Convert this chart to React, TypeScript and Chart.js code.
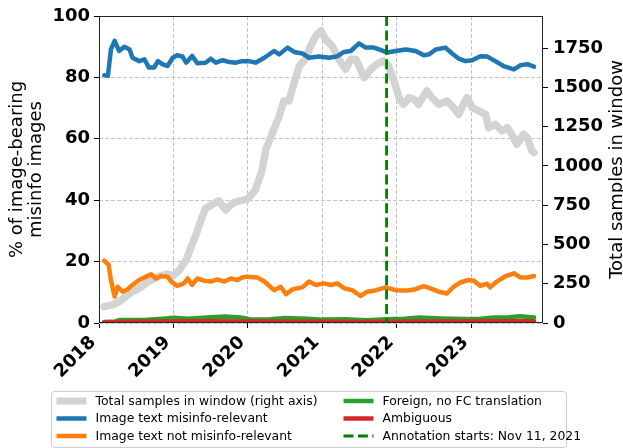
import React, { useEffect, useRef } from 'react';
import { Chart, registerables } from 'chart.js';

Chart.register(...registerables);

const FONT = "'DejaVu Sans', sans-serif";

// ---- data (decimal years / values) ----
const blueYears = [2018.07, 2018.12, 2018.16, 2018.21, 2018.27, 2018.34, 2018.41, 2018.45, 2018.54, 2018.61, 2018.67, 2018.74, 2018.79, 2018.85, 2018.92, 2018.99, 2019.05, 2019.12, 2019.17, 2019.25, 2019.32, 2019.43, 2019.50, 2019.57, 2019.66, 2019.75, 2019.84, 2019.92, 2020.01, 2020.10, 2020.22, 2020.35, 2020.42, 2020.53, 2020.62, 2020.73, 2020.82, 2020.95, 2021.09, 2021.20, 2021.29, 2021.38, 2021.49, 2021.58, 2021.69, 2021.76, 2021.87, 2021.98, 2022.12, 2022.25, 2022.36, 2022.43, 2022.52, 2022.65, 2022.74, 2022.83, 2022.92, 2023.01, 2023.12, 2023.21, 2023.32, 2023.43, 2023.57, 2023.66, 2023.75, 2023.84];
const blueValues = [80.7, 80.5, 89.1, 91.9, 88.6, 90.0, 89.1, 86.4, 85.3, 85.9, 83.2, 83.2, 85.3, 84.3, 83.7, 86.4, 87.2, 86.8, 84.8, 87.0, 84.6, 84.8, 86.1, 84.8, 85.6, 85.0, 84.8, 85.3, 85.3, 84.8, 86.4, 88.6, 87.5, 89.7, 88.3, 87.8, 86.4, 86.8, 86.4, 86.9, 88.3, 88.6, 91.1, 89.7, 89.7, 89.1, 88.1, 88.6, 89.1, 88.6, 87.2, 87.5, 89.1, 89.7, 87.8, 86.1, 85.3, 85.6, 86.9, 86.8, 85.3, 83.7, 82.6, 84.0, 84.3, 83.5];

const orangeYears = [2018.07, 2018.13, 2018.16, 2018.21, 2018.25, 2018.32, 2018.38, 2018.45, 2018.54, 2018.63, 2018.70, 2018.76, 2018.83, 2018.92, 2018.97, 2019.05, 2019.14, 2019.19, 2019.25, 2019.32, 2019.41, 2019.50, 2019.59, 2019.68, 2019.77, 2019.86, 2019.92, 2019.99, 2020.13, 2020.22, 2020.35, 2020.44, 2020.51, 2020.60, 2020.73, 2020.82, 2020.91, 2021.02, 2021.11, 2021.20, 2021.29, 2021.40, 2021.51, 2021.60, 2021.71, 2021.85, 2021.98, 2022.14, 2022.25, 2022.36, 2022.45, 2022.56, 2022.67, 2022.76, 2022.85, 2022.96, 2023.03, 2023.12, 2023.21, 2023.25, 2023.34, 2023.46, 2023.57, 2023.66, 2023.75, 2023.84];
const orangeValues = [20.3, 18.9, 14.0, 8.6, 11.8, 10.2, 10.9, 12.4, 14.0, 15.1, 15.9, 14.5, 15.3, 15.1, 13.5, 12.1, 12.9, 14.5, 12.4, 14.5, 13.8, 13.5, 14.2, 13.5, 14.5, 14.0, 14.8, 15.1, 14.8, 13.5, 10.7, 11.8, 9.4, 11.0, 11.6, 13.5, 12.4, 12.9, 12.4, 12.9, 11.3, 10.7, 8.8, 10.2, 10.6, 11.6, 10.7, 10.6, 11.0, 12.0, 11.3, 10.2, 9.6, 11.8, 13.2, 14.0, 13.8, 12.1, 12.8, 11.6, 13.5, 15.3, 16.2, 14.8, 14.8, 15.3];

const greenYears = [2018.07, 2018.22, 2018.28, 2018.60, 2018.90, 2019.00, 2019.20, 2019.50, 2019.70, 2019.90, 2020.05, 2020.30, 2020.50, 2020.80, 2021.00, 2021.30, 2021.60, 2021.85, 2022.10, 2022.30, 2022.60, 2022.90, 2023.10, 2023.30, 2023.50, 2023.65, 2023.84];
const greenValues = [0.3, 0.5, 1.0, 1.0, 1.5, 1.7, 1.4, 1.9, 2.1, 1.8, 1.1, 1.2, 1.6, 1.4, 1.1, 1.2, 0.9, 1.2, 1.4, 1.8, 1.5, 1.3, 1.3, 1.8, 1.9, 2.2, 1.8];

const redYears = [2018.07, 2018.50, 2019.00, 2019.50, 2020.00, 2020.50, 2021.00, 2021.50, 2022.00, 2022.50, 2023.00, 2023.50, 2023.84];
const redValues = [0.2, 0.4, 0.5, 0.6, 0.5, 0.4, 0.4, 0.3, 0.4, 0.5, 0.5, 0.6, 0.6];

const totalYears = [2018.07, 2018.18, 2018.27, 2018.36, 2018.45, 2018.54, 2018.63, 2018.72, 2018.81, 2018.92, 2018.99, 2019.08, 2019.17, 2019.23, 2019.30, 2019.37, 2019.43, 2019.55, 2019.61, 2019.70, 2019.79, 2019.88, 2019.99, 2020.10, 2020.19, 2020.24, 2020.33, 2020.42, 2020.48, 2020.55, 2020.62, 2020.69, 2020.77, 2020.84, 2020.91, 2020.98, 2021.04, 2021.13, 2021.22, 2021.31, 2021.38, 2021.45, 2021.56, 2021.65, 2021.73, 2021.82, 2021.89, 2021.98, 2022.04, 2022.09, 2022.16, 2022.23, 2022.29, 2022.40, 2022.47, 2022.56, 2022.67, 2022.76, 2022.83, 2022.90, 2022.94, 2023.01, 2023.10, 2023.19, 2023.23, 2023.32, 2023.41, 2023.48, 2023.54, 2023.61, 2023.70, 2023.75, 2023.81, 2023.84];
const totalValues = [104, 115, 136, 168, 200, 221, 253, 278, 299, 312, 299, 338, 401, 476, 561, 656, 730, 762, 778, 720, 762, 778, 788, 847, 975, 1106, 1212, 1318, 1414, 1414, 1531, 1637, 1680, 1764, 1828, 1862, 1807, 1764, 1680, 1616, 1680, 1680, 1562, 1616, 1648, 1669, 1637, 1510, 1420, 1393, 1435, 1425, 1393, 1478, 1435, 1393, 1414, 1371, 1329, 1403, 1435, 1371, 1350, 1329, 1244, 1265, 1223, 1244, 1202, 1138, 1202, 1180, 1096, 1085];

const xTickYears = [2018, 2019, 2020, 2021, 2022, 2023];
const leftTicks = [0, 20, 40, 60, 80, 100];
const rightTicks = [0, 250, 500, 750, 1000, 1250, 1500, 1750];
const X_MIN = 2018;
const X_MAX = 2023.96;
const LEFT_MAX = 100;
const RIGHT_MAX = 1955;
const annotationYear = 2021 + (Date.UTC(2021, 10, 11) - Date.UTC(2021, 0, 1)) / (365 * 86400000);

const leftTitle = ['% of image-bearing', 'misinfo images'];
const rightTitle = 'Total samples in window';
const seriesLabels = [
  'Total samples in window (right axis)',
  'Image text misinfo-relevant',
  'Image text not misinfo-relevant',
  'Foreign, no FC translation',
  'Ambiguous',
];
const annotationLabel = 'Annotation starts: Nov 11, 2021';

// ---- styles ----
const GRAY = '#d3d3d3';
const BLUE = '#1f77b4';
const ORANGE = '#ff7f0e';
const GREEN = '#2ca02c';
const RED = '#d62728';
const ANNO = '#008000';
const GRID = '#c4c4c4';

const toPts = (xs: number[], ys: number[]) => xs.map((x, i) => ({ x, y: ys[i] }));

const overlayPlugin = {
  id: 'overlay',
  afterDatasetsDraw(chart: any) {
    const { ctx, chartArea: a, scales } = chart;
    const x = scales.x.getPixelForValue(annotationYear);
    ctx.save();
    ctx.beginPath();
    ctx.rect(a.left, a.top, a.right - a.left, a.bottom - a.top);
    ctx.clip();
    ctx.strokeStyle = ANNO;
    ctx.lineWidth = 2.8;
    ctx.setLineDash([10, 4.4]);
    ctx.beginPath();
    ctx.moveTo(x, a.top);
    ctx.lineTo(x, a.bottom);
    ctx.stroke();
    ctx.restore();
  },
  afterDraw(chart: any) {
    const { ctx, chartArea: a } = chart;
    ctx.save();
    // frame
    ctx.strokeStyle = '#222';
    ctx.lineWidth = 1;
    ctx.setLineDash([]);
    const l = Math.round(a.left) + 0.5, t = Math.round(a.top) + 0.5;
    const r = Math.round(a.right) - 0.5, b = Math.round(a.bottom) - 0.5;
    ctx.strokeRect(l, t, r - l, b - t);

    // right axis title (reads bottom-to-top, like matplotlib's)
    ctx.save();
    ctx.translate(chart.width - 1.5, (a.top + a.bottom) / 2);
    ctx.rotate(-Math.PI / 2);
    ctx.font = `18px ${FONT}`;
    ctx.fillStyle = '#000';
    ctx.textAlign = 'center';
    ctx.textBaseline = 'alphabetic';
    ctx.fillText(rightTitle, 0, 0);
    ctx.restore();

    // legend
    const boxW = 515, boxH = 56;
    const bx = Math.round(chart.width / 2 - boxW / 2) - 3 + 0.5;
    const by = Math.round(a.bottom + 68) + 0.5;
    ctx.fillStyle = 'rgba(255,255,255,0.8)';
    ctx.strokeStyle = '#cccccc';
    ctx.lineWidth = 1;
    ctx.beginPath();
    (ctx as any).roundRect(bx, by, boxW, boxH, 3);
    ctx.fill();
    ctx.stroke();

    const rows = [9.5, 27, 44.5];
    const items = [
      { label: seriesLabels[0], color: GRAY, width: 7, dash: [] as number[] },
      { label: seriesLabels[1], color: BLUE, width: 4.5, dash: [] },
      { label: seriesLabels[2], color: ORANGE, width: 4.5, dash: [] },
      { label: seriesLabels[3], color: GREEN, width: 4.5, dash: [] },
      { label: seriesLabels[4], color: RED, width: 4.5, dash: [] },
      { label: annotationLabel, color: ANNO, width: 2.8, dash: [10, 4.4] },
    ];
    const cols = [5, 292];
    ctx.font = `12.4px ${FONT}`;
    ctx.textBaseline = 'middle';
    ctx.textAlign = 'left';
    items.forEach((it, i) => {
      const col = Math.floor(i / 3), row = i % 3;
      const hx = bx + cols[col];
      const hy = by + rows[row];
      ctx.strokeStyle = it.color;
      ctx.lineWidth = it.width;
      ctx.setLineDash(it.dash);
      ctx.beginPath();
      ctx.moveTo(hx, hy);
      ctx.lineTo(hx + 30, hy);
      ctx.stroke();
      ctx.setLineDash([]);
      ctx.fillStyle = '#000';
      ctx.fillText(it.label, hx + 39, hy + 0.5);
    });
    ctx.restore();
  },
};

export default function App() {
  const ref = useRef<HTMLCanvasElement | null>(null);

  useEffect(() => {
    if (!ref.current) return;
    const tickFont = { family: FONT, size: 18, weight: 'bold' as const };
    const titleFont = { family: FONT, size: 18, weight: 'normal' as const, lineHeight: 1.05 };
    const lineCommon = {
      pointRadius: 0,
      tension: 0,
      borderJoinStyle: 'round' as const,
      borderCapStyle: 'round' as const,
      fill: false,
    };
    const chart = new Chart(ref.current, {
      type: 'line',
      data: {
        datasets: [
          { ...lineCommon, label: seriesLabels[0], data: toPts(totalYears, totalValues), borderColor: GRAY, borderWidth: 7.5, yAxisID: 'y1', order: 5 },
          { ...lineCommon, label: seriesLabels[1], data: toPts(blueYears, blueValues), borderColor: BLUE, borderWidth: 4.5, yAxisID: 'y', order: 4 },
          { ...lineCommon, label: seriesLabels[2], data: toPts(orangeYears, orangeValues), borderColor: ORANGE, borderWidth: 4.5, yAxisID: 'y', order: 3 },
          { ...lineCommon, label: seriesLabels[3], data: toPts(greenYears, greenValues), borderColor: GREEN, borderWidth: 4.5, yAxisID: 'y', order: 2 },
          { ...lineCommon, label: seriesLabels[4], data: toPts(redYears, redValues), borderColor: RED, borderWidth: 4.5, yAxisID: 'y', order: 1 },
        ] as any,
      },
      options: {
        animation: false,
        responsive: false,
        events: [],
        layout: { padding: { top: 16, left: 0, right: 0, bottom: 0 } },
        plugins: { legend: { display: false }, tooltip: { enabled: false } },
        scales: {
          x: {
            type: 'linear',
            min: X_MIN,
            max: X_MAX,
            afterBuildTicks: (s: any) => { s.ticks = xTickYears.map((v) => ({ value: v })); },
            afterFit: (s: any) => { s.height = 125; },
            ticks: {
              minRotation: 45,
              maxRotation: 45,
              autoSkip: false,
              font: tickFont,
              color: '#000',
              padding: 4,
              labelOffset: -6,
              callback: (v: any) => String(v),
            },
            grid: { color: GRID, lineWidth: 1, tickLength: 5, tickColor: '#000', tickWidth: 1 },
            border: { display: false, dash: [4, 2] },
          },
          y: {
            type: 'linear',
            position: 'left',
            min: 0,
            max: LEFT_MAX,
            afterBuildTicks: (s: any) => { s.ticks = leftTicks.map((v) => ({ value: v })); },
            afterFit: (s: any) => { s.width = 99; },
            ticks: { font: tickFont, color: '#000', padding: 4, callback: (v: any) => String(v) },
            grid: { color: GRID, lineWidth: 1, tickLength: 5, tickColor: '#000', tickWidth: 1 },
            border: { display: false, dash: [4, 2] },
            title: {
              display: true,
              text: leftTitle,
              font: titleFont,
              color: '#000',
              padding: { top: 7.5, bottom: 0 },
            },
          },
          y1: {
            type: 'linear',
            position: 'right',
            min: 0,
            max: RIGHT_MAX,
            afterBuildTicks: (s: any) => { s.ticks = rightTicks.map((v) => ({ value: v })); },
            afterFit: (s: any) => { s.width = 80; },
            ticks: { font: tickFont, color: '#000', padding: 5, callback: (v: any) => String(v) },
            grid: { drawOnChartArea: false, tickLength: 5, tickColor: '#000', tickWidth: 1, color: GRID },
            border: { display: false },
            title: { display: false },
          },
        },
      } as any,
      plugins: [overlayPlugin],
    });
    return () => chart.destroy();
  }, []);

  return (
    <div style={{ position: 'fixed', left: 0, top: 0, width: 623, height: 448, background: '#fff' }}>
      <canvas ref={ref} width={623} height={448} style={{ display: 'block', width: 623, height: 448 }} />
    </div>
  );
}
